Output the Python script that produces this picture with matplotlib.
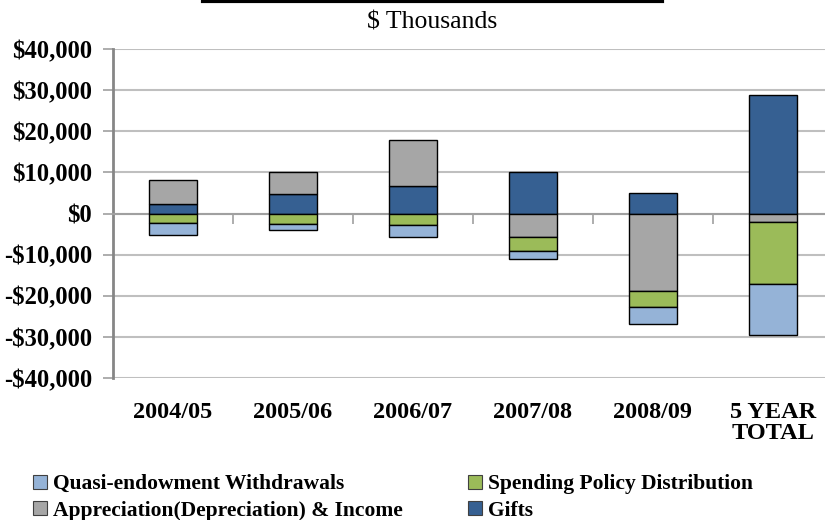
import numpy as np
import matplotlib
matplotlib.use("Agg")
import matplotlib.pyplot as plt
from matplotlib.lines import Line2D
from matplotlib.patches import Patch
from matplotlib.ticker import FuncFormatter, FixedLocator

plt.rcParams['font.family'] = ['Liberation Serif', 'DejaVu Serif']

# $ thousands
categories = ["2004/05", "2005/06", "2006/07", "2007/08", "2008/09", "5 YEAR\nTOTAL"]
quasi = [-2800, -1460, -2830, -1800, -4050, -12400]
spending = [-2400, -2440, -2780, -3400, -3890, -15140]
appreciation = [5800, 5510, 11200, -5830, -18870, -2110]
gifts = [2430, 4640, 6660, 10000, 4930, 28750]

series = [
    ("Gifts", gifts, "#366092"),
    ("Appreciation(Depreciation) & Income", appreciation, "#A6A6A6"),
    ("Spending Policy Distribution", spending, "#9BBB59"),
    ("Quasi-endowment Withdrawals", quasi, "#95B3D7"),
]


def money(v, pos=None):
    if v < 0:
        return "-${:,.0f}".format(-v)
    return "${:,.0f}".format(v)


fig = plt.figure(figsize=(8.25, 5.2), dpi=100)
ax = fig.add_axes([113 / 825, 1 - 378 / 520, 720 / 825, 329 / 520])

x = np.arange(len(categories))
pos_bottom = np.zeros(len(x))
neg_bottom = np.zeros(len(x))
handles = {}
for name, vals, col in series:
    vals = np.array(vals, dtype=float)
    bottom = np.where(vals >= 0, pos_bottom, neg_bottom)
    ax.bar(x, vals, 0.4, bottom=bottom, color=col, edgecolor="black",
           linewidth=1.0, zorder=3)
    handles[name] = Patch(facecolor=col, edgecolor="#404040", linewidth=0.8)
    pos_bottom = pos_bottom + np.where(vals >= 0, vals, 0)
    neg_bottom = neg_bottom + np.where(vals < 0, vals, 0)

ax.set_xlim(-0.5, len(categories) - 0.5)
ax.set_ylim(-40000, 40000)
ax.set_yticks(np.arange(-40000, 40001, 10000))
ax.yaxis.set_major_formatter(FuncFormatter(money))
ax.grid(axis="y", color="#BFBFBF", linewidth=1.5, zorder=0)
ax.set_axisbelow(True)

for s in ["top", "right"]:
    ax.spines[s].set_visible(False)
ax.spines["left"].set_color("#868686")
ax.spines["left"].set_linewidth(2)
ax.spines["bottom"].set_position(("data", 0))
ax.spines["bottom"].set_color("#A0A0A0")
ax.spines["bottom"].set_linewidth(1.5)

ax.xaxis.set_major_locator(FixedLocator(np.arange(0.5, len(categories) - 1, 1)))
ax.xaxis.set_major_formatter(FuncFormatter(lambda v, p: ""))
ax.tick_params(axis="x", length=7, width=1.2, color="#A0A0A0", direction="out")
ax.tick_params(axis="y", length=7, width=1.2, color="#A0A0A0", direction="out",
               pad=8, labelsize=17.7)
for lab in ax.get_yticklabels():
    lab.set_fontweight("bold")

trans = ax.get_xaxis_transform()
for xi, c in zip(x, categories):
    ax.text(xi, -0.072, c, transform=trans, ha="center", va="top",
            fontsize=17.5, fontweight="bold", linespacing=1.05)

fig.text(432 / 825, 1 - 23 / 520, "$ Thousands", ha="center", va="center", fontsize=18.5)
fig.add_artist(Line2D([203 / 825, 662 / 825], [1 - 1 / 520, 1 - 1 / 520],
                      color="black", linewidth=3))

order = ["Quasi-endowment Withdrawals", "Appreciation(Depreciation) & Income",
         "Spending Policy Distribution", "Gifts"]
leg = fig.legend([handles[n] for n in order], order, ncol=2, loc="upper left",
                 bbox_to_anchor=(14 / 825, 1 - 455 / 520), frameon=False,
                 prop={"weight": "bold", "size": 15.5}, handlelength=0.65,
                 handleheight=0.65, handletextpad=0.25, columnspacing=3.05,
                 labelspacing=0.3)

fig.savefig("out.png", dpi=100)
